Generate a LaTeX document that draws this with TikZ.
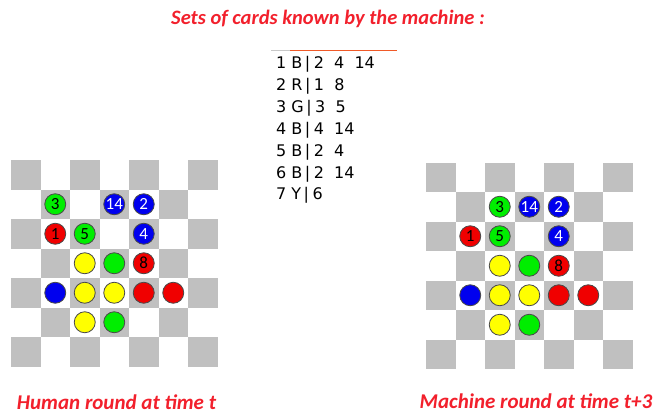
\documentclass[tikz,border=0pt]{standalone}
\usepackage{fontspec}
\setmainfont{Carlito}
\newfontfamily\tabfont{DejaVu Sans}
\usetikzlibrary{positioning}
\definecolor{cellgray}{HTML}{C0C0C0}
\definecolor{titlered}{HTML}{F2202C}
\definecolor{tabline}{HTML}{F05A28}
\definecolor{tabgray}{HTML}{C8C8C8}
\definecolor{discedge}{HTML}{4A4A4A}
\definecolor{dred}{HTML}{F00000}
\definecolor{dgreen}{HTML}{00EE00}
\definecolor{dblue}{HTML}{0000EE}
\definecolor{dyellow}{HTML}{FFFF00}
\newcommand{\cbar}{\kern2.5pt|\kern3.5pt}
\tikzset{
  cell/.style={fill=cellgray},
  disc/.style={circle,draw=discedge,line width=0.8pt,minimum size=21pt,inner sep=0pt,font=\fontsize{17}{17}\selectfont},
  rd/.style={disc,fill=dred,text=black},
  gd/.style={disc,fill=dgreen,text=black},
  bd/.style={disc,fill=dblue,text=white},
  yd/.style={disc,fill=dyellow},
  heading/.style={text=titlered,anchor=base,font=\fontsize{20.5}{20.5}\selectfont\bfseries\itshape},
  caption/.style={text=titlered,anchor=base,font=\fontsize{21}{21}\selectfont\bfseries\itshape},
  cardrow/.style={anchor=base west,inner sep=0pt,text=black,font=\tabfont\fontsize{16}{16}\selectfont}
}
\begin{document}
\begin{tikzpicture}[x=1pt,y=-1pt,line join=round,line cap=round]
  \useasboundingbox (0,0) rectangle (657,418);
  \node[heading] (title) at (328,24) {Sets of cards known by the machine :};
  % bang cac bo bai
  \coordinate (tabA) at (271,50.5);
  \coordinate (tabB) at (290,50.5);
  \coordinate (tabC) at (397,50.5);
  \draw[tabgray,line width=1pt,line cap=butt] (tabA) -- (tabB);
  \draw[tabline,line width=1.6pt,line cap=butt] (tabB) -- (tabC);
  \foreach \k/\t in {1/{1 B\cbar 2~~4~~14},2/{2 R\cbar 1~~8},3/{3 G\cbar 3~~5},4/{4 B\cbar 4~~14},
                     5/{5 B\cbar 2~~4},6/{6 B\cbar 2~~14},7/{7 Y\cbar 6}}
    \node[cardrow] (card\k) at (276,{68.5+21.9*(\k-1)}) {\t};
  % ban co trai
  \begin{scope}[shift={(11pt,-160pt)},x=29.5pt,y=-29.5pt]
    \foreach \i in {0,...,6}
      \foreach \j in {0,...,6}{
        \pgfmathtruncatemacro\cellodd{mod(\i+\j,2)}
        \ifnum\cellodd=0 \fill[cell] (\i,\j) rectangle ++(1,1); \fi
      }
    \foreach \c/\r/\s/\t/\n in {1/1/gd/3/3,3/1/bd/14/14,4/1/bd/2/2,1/2/rd/1/1,2/2/gd/5/5,4/2/bd/4/4,
        2/3/yd//y1,3/3/gd//g1,4/3/rd/8/8,1/4/bd//b1,2/4/yd//y2,3/4/yd//y3,4/4/rd//r1,5/4/rd//r2,
        2/5/yd//y4,3/5/gd//g2}
      \node[\s] (L\n) at (\c+.5,\r+.5) {\t};
  \end{scope}
  % ban co phai
  \begin{scope}[shift={(426pt,-162.5pt)},x=29.5pt,y=-29.5pt]
    \foreach \i in {0,...,6}
      \foreach \j in {0,...,6}{
        \pgfmathtruncatemacro\cellodd{mod(\i+\j,2)}
        \ifnum\cellodd=0 \fill[cell] (\i,\j) rectangle ++(1,1); \fi
      }
    \foreach \c/\r/\s/\t/\n in {2/1/gd/3/3,3/1/bd/14/14,4/1/bd/2/2,1/2/rd/1/1,2/2/gd/5/5,4/2/bd/4/4,
        2/3/yd//y1,3/3/gd//g1,4/3/rd/8/8,1/4/bd//b1,2/4/yd//y2,3/4/yd//y3,4/4/rd//r1,5/4/rd//r2,
        2/5/yd//y4,3/5/gd//g2}
      \node[\s] (R\n) at (\c+.5,\r+.5) {\t};
  \end{scope}
  \node[caption] (human) at (116.5,409) {Human round at time t};
  \node[caption] (machine) at (536,408) {Machine round at time t+3};
\end{tikzpicture}
\end{document}
